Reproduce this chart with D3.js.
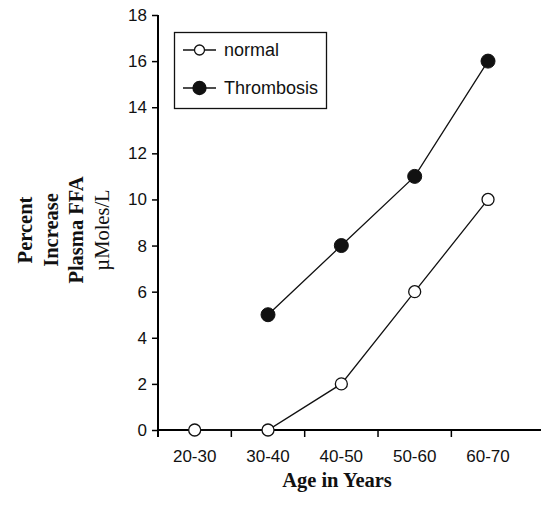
<!DOCTYPE html>
<html><head><meta charset="utf-8">
<script src="https://cdn.jsdelivr.net/npm/d3@7"></script>
<style>body{margin:0;background:#fff}</style>
</head><body>
<svg id="c" width="541" height="505"></svg>
<script>
const categories = ["20-30","30-40","40-50","50-60","60-70"];
const normalValues = [0,0,2,6,10];
const thrombosisValues = [null,5,8,11,16];
const yTicks = [0,2,4,6,8,10,12,14,16,18];
const seriesNames = ["normal","Thrombosis"];

const svg = d3.select("#c");
const x = d3.scaleBand().domain(categories).range([158, 524.7]);
const y = d3.scaleLinear().domain([0,18]).range([430, 15]);
const sans = "'Liberation Sans', Arial, sans-serif";
const serif = "'Liberation Serif', 'Times New Roman', serif";

// y axis
const ya = svg.append("g").attr("transform","translate(158,0)")
  .call(d3.axisLeft(y).tickValues(yTicks).tickSize(6).tickPadding(5).tickSizeOuter(0));
ya.select(".domain").attr("d","M0,15V437").attr("stroke","#000").attr("stroke-width",2);
ya.selectAll(".tick line").attr("stroke","#000").attr("stroke-width",1.5);
ya.selectAll("text").attr("font-family",sans).attr("font-size",17).attr("fill","#111");

// x axis
const boundaries = categories.slice(1).map(c => x(c));
const xa = svg.append("g").attr("transform","translate(0,430)");
xa.append("line").attr("x1",157).attr("x2",541).attr("y1",0).attr("y2",0).attr("stroke","#000").attr("stroke-width",2);
xa.selectAll("line.t").data(boundaries).join("line").attr("class","t")
  .attr("x1",d=>d).attr("x2",d=>d).attr("y1",0).attr("y2",7).attr("stroke","#000").attr("stroke-width",1.5);
xa.selectAll("text").data(categories).join("text")
  .attr("x",d=>x(d)+x.bandwidth()/2).attr("y",32).attr("text-anchor","middle")
  .attr("font-family",sans).attr("font-size",17).attr("fill","#111").text(d=>d);

// titles
svg.append("text").attr("x",337).attr("y",487).attr("text-anchor","middle")
  .attr("font-family",serif).attr("font-weight","bold").attr("font-size",20.5).attr("fill","#111").text("Age in Years");
const yTitle = ["Percent","Increase","Plasma FFA","\u00b5Moles/L"];
yTitle.forEach((t,i)=>{
  svg.append("text").attr("transform",`translate(${32+i*25.5},230) rotate(-90)`)
    .attr("text-anchor","middle").attr("font-family",serif)
    .attr("font-weight", i===3 ? "normal" : "bold").attr("font-size",20.5).attr("fill","#111").text(t);
});

const cx = c => x(c)+x.bandwidth()/2;
const line = d3.line().defined(d=>d.v!==null).x(d=>cx(d.c)).y(d=>y(d.v));
const nData = categories.map((c,i)=>({c,v:normalValues[i]}));
const tData = categories.map((c,i)=>({c,v:thrombosisValues[i]}));

svg.append("path").datum(nData).attr("d",line).attr("fill","none").attr("stroke","#111").attr("stroke-width",1.3);
svg.append("path").datum(tData).attr("d",line).attr("fill","none").attr("stroke","#111").attr("stroke-width",1.3);
svg.selectAll("circle.n").data(nData).join("circle").attr("class","n")
  .attr("cx",d=>cx(d.c)).attr("cy",d=>y(d.v)).attr("r",6).attr("fill","#fff").attr("stroke","#111").attr("stroke-width",1.3);
svg.selectAll("circle.t").data(tData.filter(d=>d.v!==null)).join("circle").attr("class","t")
  .attr("cx",d=>cx(d.c)).attr("cy",d=>y(d.v)).attr("r",7).attr("fill","#111").attr("stroke","#111").attr("stroke-width",1);

// legend
const lg = svg.append("g");
lg.append("rect").attr("x",174.5).attr("y",32.5).attr("width",152).attr("height",76).attr("fill","#fff").attr("stroke","#111").attr("stroke-width",1.3);
[50,88].forEach((ly,i)=>{
  lg.append("line").attr("x1",183).attr("x2",216).attr("y1",ly).attr("y2",ly).attr("stroke","#111").attr("stroke-width",1.3);
  lg.append("circle").attr("cx",199.5).attr("cy",ly).attr("r",i===0?5:6.5)
    .attr("fill",i===0?"#fff":"#111").attr("stroke","#111").attr("stroke-width",1.3);
  lg.append("text").attr("x",224).attr("y",ly+6).attr("font-family",sans).attr("font-size",18).attr("fill","#111").text(seriesNames[i]);
});
</script>
</body></html>
